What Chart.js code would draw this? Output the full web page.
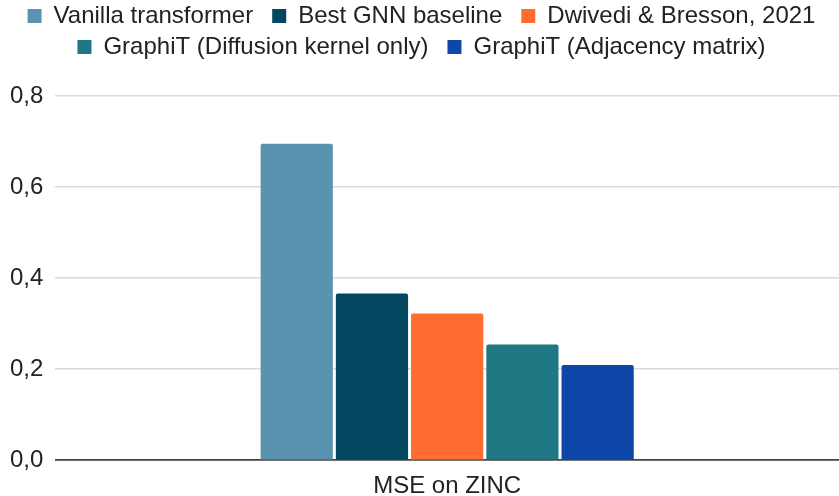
<!DOCTYPE html>
<html>
<head>
<meta charset="utf-8">
<script src="https://cdn.jsdelivr.net/npm/chart.js@4/dist/chart.umd.min.js"></script>
<style>
  html, body { margin: 0; padding: 0; background: #fff; }
  #wrap { width: 839px; height: 496px; }
</style>
</head>
<body>
<div id="wrap"><canvas id="c" width="839" height="496"></canvas></div>
<script>
// Categories and series
const categories = ['MSE on ZINC'];
const seriesNames = [
  'Vanilla transformer',
  'Best GNN baseline',
  'Dwivedi & Bresson, 2021',
  'GraphiT (Diffusion kernel only)',
  'GraphiT (Adjacency matrix)'
];
const vanillaTransformer = [0.695];
const bestGnnBaseline = [0.366];
const dwivediBresson = [0.322];
const graphitDiffusion = [0.254];
const graphitAdjacency = [0.209];
const yTicks = [0, 0.2, 0.4, 0.6, 0.8];

const colors = ['#5A93B0', '#02475F', '#FF6D31', '#1F7884', '#0F46AA'];
const values = [vanillaTransformer, bestGnnBaseline, dwivediBresson, graphitDiffusion, graphitAdjacency];

const datasets = seriesNames.map((name, i) => ({
  label: name,
  data: values[i],
  backgroundColor: colors[i],
  borderRadius: { topLeft: 2, topRight: 2 },
  borderSkipped: 'bottom',
  barPercentage: 0.96,
  categoryPercentage: 0.48
}));

Chart.defaults.font.family = '"Liberation Sans", Arial, sans-serif';
Chart.defaults.color = '#222';

// Legend rows sit close together while items keep a wider gap,
// so each label carries a little trailing space.
const baseLabels = Chart.defaults.plugins.legend.labels.generateLabels;

// Extra room between the legend and the plot area, and a small nudge
// so the rows stay centred despite the trailing space.
const legendGap = {
  id: 'legendGap',
  beforeLayout(chart) {
    const lg = chart.legend;
    if (lg && !lg._gapWrapped) {
      const fit = lg.fit.bind(lg);
      lg.fit = function () { fit(); this.height += 27; };
      lg._gapWrapped = true;
    }
  },
  afterLayout(chart) {
    const lg = chart.legend;
    if (lg) { lg.left += 9; lg.right += 9; }
  }
};

new Chart(document.getElementById('c'), {
  type: 'bar',
  data: { labels: categories, datasets },
  options: {
    responsive: false,
    animation: false,
    layout: { padding: { left: -2, right: 0, top: -3, bottom: -17 } },
    plugins: {
      tooltip: { enabled: false },
      legend: {
        position: 'top',
        labels: {
          boxWidth: 14,
          boxHeight: 14,
          padding: 7,
          font: { size: 24 },
          color: '#222',
          generateLabels: (chart) => baseLabels(chart).map(l => ({ ...l, text: l.text + '\u2002' }))
        }
      }
    },
    scales: {
      x: {
        grid: { display: false, drawTicks: false },
        border: { display: true, color: '#444', width: 1.5 },
        ticks: { font: { size: 24 }, color: '#222', padding: 12 }
      },
      y: {
        min: 0,
        max: 0.8,
        afterBuildTicks: (axis) => { axis.ticks = yTicks.map(v => ({ value: v })); },
        grid: {
          drawTicks: false,
          color: (ctx) => ctx.tick && ctx.tick.value === 0 ? '#444' : '#dadada',
          lineWidth: 1.5
        },
        border: { display: false },
        ticks: {
          font: { size: 24 },
          color: '#222',
          padding: 12,
          callback: (v) => Number(v).toFixed(1).replace('.', ',')
        }
      }
    }
  },
  plugins: [legendGap]
});
</script>
</body>
</html>
